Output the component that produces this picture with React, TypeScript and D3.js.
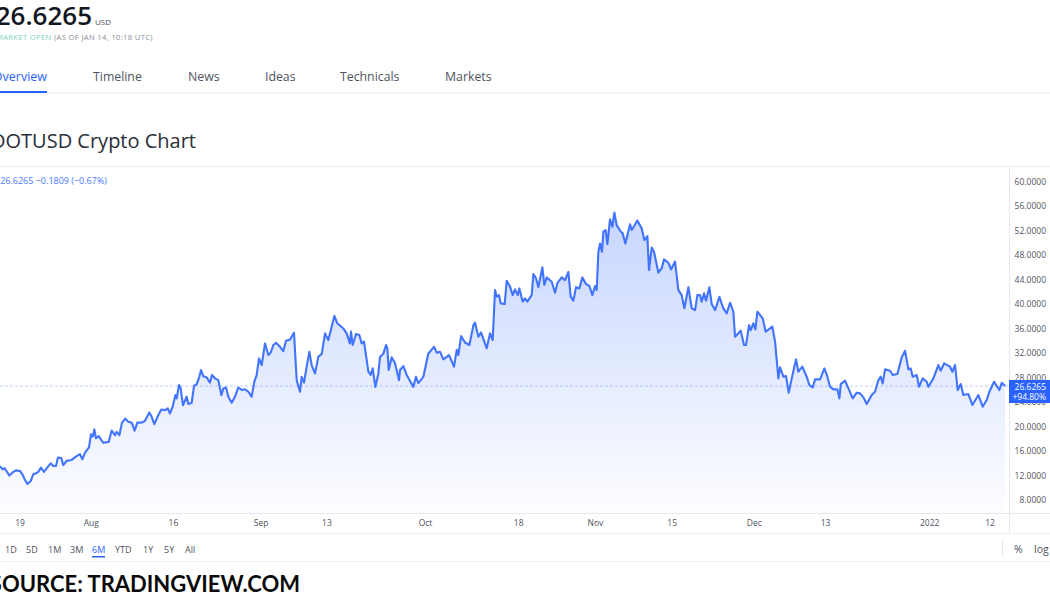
import React from 'react';
import * as d3 from 'd3';

// price: days since 19 Jul 2021, and price in USD
const priceDays = [
  -3.65, -3.16, -2.8, -2.3, -1.95, -1.34, -0.73, 0, 0.49, 0.85, 1.34, 1.95, 2.43, 2.92, 3.34, 3.83, 4.38, 5.17, 5.6, 6.08,
  6.57, 6.93, 7.54, 7.9, 8.5, 9.43, 10.2, 10.95, 11.37, 11.86, 12.59, 12.95, 13.26, 13.56, 13.87, 14.35, 15.2, 16.18, 16.73, 17.33,
  17.64, 18.13, 18.61, 19.22, 19.77, 20.38, 20.92, 21.41, 22.2, 22.81, 23.6, 24.03, 24.51, 25.24, 25.79, 26.46, 26.95, 27.37, 27.86, 28.35,
  28.59, 29.01, 29.32, 29.74, 30.41, 30.72, 31.33, 31.75, 32.24, 32.72, 33.03, 33.45, 34.06, 34.67, 35.04, 35.58, 36.19, 36.74, 37.1, 37.59,
  38.02, 38.62, 39.23, 39.84, 40.45, 41.06, 41.67, 42.27, 42.76, 43.19, 43.61, 44.1, 44.71, 45.32, 45.74, 46.23, 46.71, 47.44, 48.05, 48.54,
  49.27, 50.0, 50.18, 50.49, 51.09, 51.4, 51.83, 52.31, 52.8, 53.22, 53.83, 54.44, 55.05, 55.66, 56.26, 56.87, 57.36, 57.9, 59.0, 59.61,
  60.2, 60.4, 60.71, 61.31, 61.92, 62.35, 62.77, 63.26, 63.57, 63.99, 64.36, 64.84, 65.39, 65.69, 66.3, 66.79, 67.03, 67.28, 67.82, 68.43,
  69.16, 69.34, 69.95, 70.56, 71.78, 72.26, 72.69, 73.6, 74.51, 75.55, 76.04, 76.64, 77.25, 78.29, 79.2, 79.69, 79.99, 80.48, 81.21, 82.0,
  82.73, 83.03, 83.64, 84.12, 85.16, 85.77, 86.25, 86.68, 86.98, 87.41, 87.71, 88.44, 88.81, 89.42, 89.9, 90.33, 90.82, 91.12, 91.73, 92.15,
  92.58, 93.37, 93.68, 94.16, 94.59, 95.32, 95.68, 96.11, 97.02, 97.63, 98.05, 98.85, 99.45, 100.06, 100.49, 100.97, 101.46, 102.07, 102.62, 103.29,
  103.9, 104.44, 104.93, 105.23, 105.54, 105.84, 106.2, 106.45, 106.87, 107.18, 107.66, 108.09, 108.46, 108.88, 109.61, 109.98, 110.46, 111.32, 111.62, 112.65,
  113.44, 113.93, 114.48, 114.78, 115.27, 115.69, 116.48, 117.09, 117.52, 118.31, 118.8, 119.53, 120.13, 120.74, 121.23, 121.96, 122.57, 123.18, 123.6, 124.09,
  124.39, 124.82, 125.18, 125.79, 126.22, 126.83, 127.62, 128.35, 128.96, 129.56, 130.17, 130.48, 131.51, 132.12, 132.48, 133.03, 133.34, 133.82, 134.19, 134.55,
  135.53, 136.07, 137.29, 137.78, 138.38, 138.69, 139.3, 139.78, 140.27, 140.82, 141.61, 142.03, 142.76, 143.55, 144.04, 144.65, 145.08, 145.99, 146.78, 147.33,
  147.81, 148.42, 149.15, 149.52, 149.76, 150.55, 151.16, 151.95, 152.68, 153.29, 153.9, 154.5, 155.42, 156.02, 156.63, 157.06, 157.42, 157.85, 158.76, 159.25,
  160.1, 160.89, 161.5, 162.11, 162.53, 162.9, 163.63, 164.05, 164.72, 165.45, 165.76, 166.67, 167.58, 168.01, 168.62, 169.71, 170.14, 170.62, 171.11, 171.66,
  172.14, 173.06, 173.79, 174.88, 175.67, 176.4, 176.89, 177.74, 178.71, 179.14, 179.75,
];
const priceValues = [
  13.55, 13.0, 13.2, 12.5, 12.0, 12.5, 12.85, 12.75, 12.1, 11.4, 10.6, 11.1, 12.25, 12.35, 12.6, 13.3, 12.6, 13.55, 14.0, 13.55,
  13.55, 14.95, 14.85, 13.7, 14.4, 14.55, 15.1, 15.5, 14.65, 15.75, 16.6, 18.75, 18.35, 19.55, 18.1, 18.45, 17.35, 17.5, 19.35, 18.6,
  19.15, 18.6, 20.65, 21.3, 20.8, 20.65, 19.35, 20.65, 20.65, 20.95, 22.3, 21.6, 20.4, 21.9, 22.8, 22.7, 23.0, 22.15, 23.25, 25.15,
  24.6, 26.8, 26.25, 23.5, 24.9, 23.7, 23.9, 26.65, 26.95, 28.15, 29.25, 28.25, 28.05, 27.2, 28.45, 27.9, 27.6, 25.15, 26.25, 26.4,
  24.9, 23.9, 24.9, 26.4, 26.0, 26.1, 25.7, 24.9, 27.35, 28.45, 31.15, 30.05, 33.6, 31.7, 32.1, 33.35, 33.7, 33.05, 32.35, 34.05,
  34.25, 35.35, 32.5, 27.6, 25.7, 28.15, 27.2, 29.8, 32.25, 30.05, 28.7, 31.45, 31.85, 35.25, 34.15, 36.35, 38.1, 36.9, 36.05, 35.25,
  33.6, 35.55, 33.35, 35.15, 34.98, 33.6, 33.9, 30.9, 29.0, 28.45, 29.55, 26.5, 28.7, 31.4, 31.9, 33.35, 32.8, 29.25, 31.35, 30.35,
  27.6, 29.25, 29.9, 28.45, 26.5, 28.15, 27.1, 28.15, 31.95, 33.05, 32.1, 32.25, 31.0, 31.7, 29.8, 32.55, 31.7, 34.8, 33.75, 33.35,
  36.6, 37.0, 34.7, 35.4, 32.8, 35.25, 34.15, 42.35, 41.25, 41.5, 40.15, 40.05, 43.85, 42.9, 41.5, 42.45, 41.5, 42.6, 40.45, 40.98,
  40.45, 41.5, 44.95, 44.25, 42.8, 46.05, 43.15, 44.4, 43.7, 41.9, 43.45, 44.4, 43.95, 45.3, 41.25, 40.6, 42.8, 42.6, 44.4, 43.3,
  43.0, 41.5, 43.0, 42.35, 48.6, 49.95, 48.6, 51.9, 52.15, 49.85, 53.9, 52.7, 55.0, 52.95, 51.9, 51.6, 49.95, 53.1, 52.15, 53.7,
  52.45, 50.5, 51.15, 45.6, 49.3, 48.6, 45.2, 45.9, 47.35, 46.8, 45.7, 47.0, 42.35, 41.5, 39.35, 42.8, 39.35, 39.05, 41.5, 41.52,
  40.43, 41.79, 40.59, 42.77, 40.05, 39.06, 41.24, 39.34, 38.52, 40.26, 38.79, 34.7, 35.68, 33.34, 33.34, 36.61, 35.79, 36.88, 35.9, 38.79,
  37.7, 35.52, 36.34, 33.9, 27.89, 29.69, 28.16, 28.27, 25.55, 27.89, 31.0, 28.98, 29.8, 28.16, 26.8, 26.42, 27.73, 27.73, 29.52, 28.16,
  26.53, 26.09, 26.09, 24.62, 26.96, 27.51, 26.25, 24.62, 25.55, 25.44, 24.78, 23.69, 25.16, 25.71, 27.62, 28.16, 27.07, 29.36, 29.14, 28.43,
  28.6, 31.32, 32.41, 29.36, 29.52, 28.16, 28.43, 26.53, 27.89, 27.34, 26.53, 27.89, 30.07, 29.14, 30.34, 29.8, 28.98, 30.07, 25.98, 26.96,
  25.16, 25.33, 23.53, 25.16, 23.26, 24.35, 25.71, 27.34, 25.98, 27.18, 26.63,
];

const yTicks = [60, 56, 52, 48, 44, 40, 36, 32, 28, 24, 20, 16, 12, 8];
const timeTickDates = ['2021-07-19', '2021-08-01', '2021-08-16', '2021-09-01', '2021-09-13', '2021-10-01', '2021-10-18', '2021-11-01', '2021-11-15', '2021-11-30', '2021-12-13', '2022-01-01', '2022-01-12'];
const timeTickLabels = ['19', 'Aug', '16', 'Sep', '13', 'Oct', '18', 'Nov', '15', 'Dec', '13', '2022', '12'];
const navTabs = ['Timeline', 'News', 'Ideas', 'Technicals', 'Markets'];
const navX = [93, 188, 265, 340, 445];
const rangeButtons = ['1D', '5D', '1M', '3M', '6M', 'YTD', '1Y', '5Y', 'All'];
const rangeX = [5, 26, 48, 70, 92, 115, 143, 164, 185];
const lastPrice = 26.6265;

const BLUE = '#2962ff';
const UI_FONT = '"Open Sans", "Noto Sans", sans-serif';

const App: React.FC = () => {
  const startMs = Date.UTC(2021, 6, 19);
  const x = d3.scaleTime()
    .domain([new Date('2021-07-19T00:00:00Z'), new Date('2022-01-12T00:00:00Z')])
    .range([20, 990]);
  const y = d3.scaleLinear().domain([8, 60]).range([500, 182]);

  const points = priceDays.map((d, i) => ({date: new Date(startMs + d * 86400000), value: priceValues[i]}));
  const line = d3.line<any>().x(d => x(d.date)).y(d => y(d.value));
  const area = d3.area<any>().x(d => x(d.date)).y0(513).y1(d => y(d.value));

  return (
    <svg width={1050} height={600} viewBox="0 0 1050 600"
         style={{position: 'absolute', left: 0, top: 0, background: '#fff', fontFamily: UI_FONT}}>
      <defs>
        <linearGradient id="areaFill" gradientUnits="userSpaceOnUse" x1="0" y1={y(55)} x2="0" y2={513}>
          <stop offset="0%" stopColor={BLUE} stopOpacity={0.26}/>
          <stop offset="100%" stopColor={BLUE} stopOpacity={0.01}/>
        </linearGradient>
      </defs>

      {/* header */}
      <text x={92} y={25} textAnchor="end" fontSize={26} fontWeight={600} fill="#131722">26.6265</text>
      <text x={95} y={25} fontSize={8} fill="#50535e">USD</text>
      <text x={-4} y={40} fontSize={7.6} fill="#7fd3b8" letterSpacing={0.35}>MARKET OPEN</text>
      <text x={54} y={40} fontSize={7.6} fill="#8a8e99" letterSpacing={0.35}>(AS OF JAN 14, 10:18 UTC)</text>

      {/* tabs */}
      <text x={47} y={81} textAnchor="end" fontSize={12.5} fill={BLUE}>Overview</text>
      {navTabs.map((t, i) => (
        <text key={t} x={navX[i]} y={81} fontSize={12.3} fill="#50535e">{t}</text>
      ))}
      <line x1={0} x2={1050} y1={93} y2={93} stroke="#e9eaef"/>
      <rect x={0} y={91} width={47} height={2} fill={BLUE}/>

      <text x={196} y={148} textAnchor="end" fontSize={20} fill="#2a2e39">DOTUSD Crypto Chart</text>

      {/* chart frame */}
      <line x1={0} x2={1050} y1={166.5} y2={166.5} stroke="#eceef4"/>
      <line x1={0} x2={1050} y1={513.5} y2={513.5} stroke="#e6e8ef"/>
      <line x1={0} x2={1050} y1={533.5} y2={533.5} stroke="#eceef4"/>
      <line x1={0} x2={1050} y1={561.5} y2={561.5} stroke="#eff0f4"/>
      <line x1={1009.5} x2={1009.5} y1={166} y2={533} stroke="#e6e8ef"/>

      <text x={107} y={184} textAnchor="end" fontSize={9} fill={BLUE} opacity={0.85}>26.6265 −0.1809 (−0.67%)</text>

      {/* series */}
      <path d={area(points) as string} fill="url(#areaFill)"/>
      <line x1={0} x2={1009} y1={y(lastPrice)} y2={y(lastPrice)} stroke={BLUE} strokeOpacity={0.3} strokeWidth={1} strokeDasharray="3 2"/>
      <path d={line(points) as string} fill="none" stroke={BLUE} strokeWidth={2.1} strokeOpacity={0.88} strokeLinejoin="round"/>

      {/* price axis */}
      {yTicks.map(t => (
        <text key={t} x={1046} y={y(t) + 3} textAnchor="end" fontSize={8.5} fill="#50535e">{t.toFixed(4)}</text>
      ))}
      <rect x={1009} y={380} width={41} height={23} fill={BLUE}/>
      <text x={1046} y={389.5} textAnchor="end" fontSize={8.5} fill="#fff">{lastPrice.toFixed(4)}</text>
      <text x={1046} y={399.5} textAnchor="end" fontSize={8.5} fill="#fff">+94.80%</text>

      {/* time axis */}
      {timeTickDates.map((d, i) => (
        <text key={d} x={x(new Date(d + 'T00:00:00Z'))} y={526} textAnchor="middle" fontSize={8.5} fill="#50535e">{timeTickLabels[i]}</text>
      ))}

      {/* range buttons */}
      {rangeButtons.map((b, i) => (
        <text key={b} x={rangeX[i]} y={552.5} fontSize={9} fill={b === '6M' ? BLUE : '#50535e'}>{b}</text>
      ))}
      <rect x={92} y={556} width={13} height={1.5} fill={BLUE}/>
      <line x1={1002.5} x2={1002.5} y1={540} y2={556} stroke="#e6e8ef"/>
      <text x={1014} y={553} fontSize={10.5} fill="#50535e">%</text>
      <text x={1034} y={553} fontSize={10.5} fill="#50535e">log</text>

      <text x={300} y={592} textAnchor="end" fontSize={22} fontWeight={700} fill="#0a0a0a"
            fontFamily='Lato, "Open Sans", sans-serif'>SOURCE: TRADINGVIEW.COM</text>
    </svg>
  );
};

export default App;
